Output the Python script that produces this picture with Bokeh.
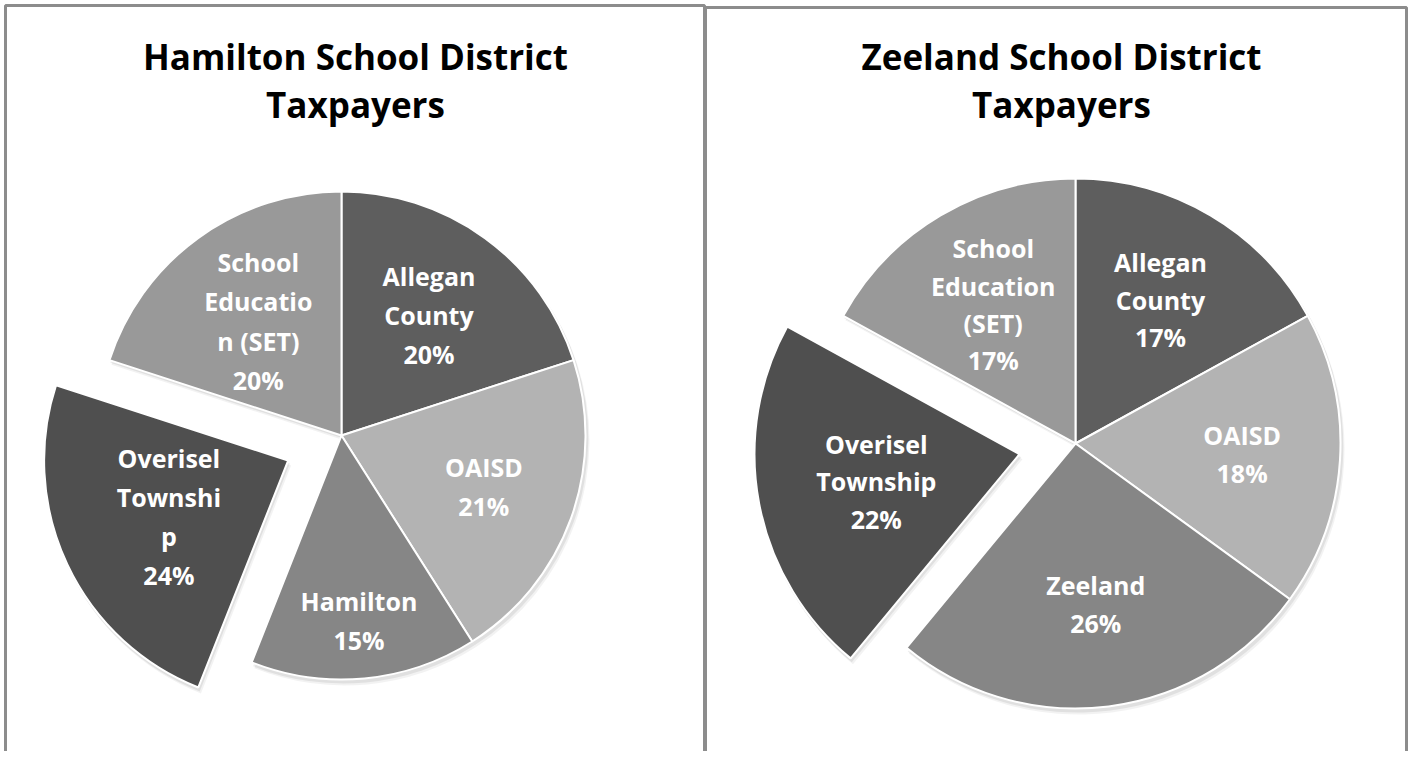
import math
from bokeh.plotting import figure
from bokeh.models import Range1d
from bokeh.core.properties import value
from bokeh.embed import file_html
from bokeh.resources import INLINE

# ---------------- data ----------------
left_title = "Hamilton School District\nTaxpayers"
left_labels = ["Allegan\nCounty", "OAISD", "Hamilton", "Overisel\nTownshi\np", "School\nEducatio\nn (SET)"]
left_values = [20, 21, 15, 24, 20]

right_title = "Zeeland School District\nTaxpayers"
right_labels = ["Allegan\nCounty", "OAISD", "Zeeland", "Overisel\nTownship", "School\nEducation\n(SET)"]
right_values = [17, 18, 26, 22, 17]

# ---------------- styles / layout ----------------
colors = ["#5e5e5e", "#b3b3b3", "#868686", "#4f4f4f", "#999999"]
explode = [0, 0, 0, 1, 0]
FONT = "Open Sans"

W, H = 1408, 751
p = figure(width=W, height=H, output_backend="svg", toolbar_location=None,
           x_range=Range1d(0, W), y_range=Range1d(767 - H, 767),
           min_border=0, outline_line_color=None)
p.axis.visible = False
p.grid.visible = False
p.background_fill_color = "white"
p.border_fill_color = "white"

def Y(y):
    return 767 - y

# panel borders
bc = "#8c8c8c"
p.line([5, 5, 704, 704], [Y(780), Y(5), Y(5), Y(780)], line_color=bc, line_width=3)
p.line([705, 705, W - 2, W - 2], [Y(780), Y(7), Y(7), Y(780)], line_color=bc, line_width=3)


def draw_pie(cx, cy, r, values, labels, title, tx, label_frac, exp_px, fsize, lh, title_y):
    total = float(sum(values))
    cum = 0.0
    xs, ys, sa, ea, lx, ly, txt = [], [], [], [], [], [], []
    for i, v in enumerate(values):
        a0 = math.pi / 2 - 2 * math.pi * cum / total
        cum += v
        a1 = math.pi / 2 - 2 * math.pi * cum / total
        mid = (a0 + a1) / 2
        ox = cx + explode[i] * exp_px * math.cos(mid)
        oy = cy + explode[i] * exp_px * math.sin(mid)
        xs.append(ox); ys.append(oy); sa.append(a0); ea.append(a1)
        lx.append(ox + label_frac[i] * r * math.cos(mid))
        ly.append(oy + label_frac[i] * r * math.sin(mid))
        txt.append(labels[i] + "\n" + f"{round(100 * v / total)}%")
    # soft shadow
    for k, al in [(5, 0.05), (3, 0.07)]:
        p.wedge(x=[x + k * 0.6 for x in xs], y=[y - k for y in ys], radius=r + 1,
                start_angle=sa, end_angle=ea, direction="clock",
                fill_color="black", fill_alpha=al, line_color=None)
    p.wedge(x=xs, y=ys, radius=r, start_angle=sa, end_angle=ea, direction="clock",
            fill_color=colors, line_color="white", line_width=2)
    p.text(x=lx, y=ly, text=txt, text_color="white", text_font=value(FONT),
           text_font_style="bold", text_font_size=f"{fsize}px", text_align="center",
           text_baseline="middle", text_line_height=lh)
    p.text(x=[tx], y=[Y(title_y)], text=[title], text_color="black", text_font=value(FONT),
           text_font_style="bold", text_font_size="35px", text_align="center",
           text_baseline="middle", text_line_height=1.03)


draw_pie(341, Y(435), 244, left_values, left_labels, left_title, 355,
         [0.61, 0.62, 0.76, 0.54, 0.58], 59, 25, 1.15, 80)
draw_pie(1075, Y(443), 265, right_values, right_labels, right_title, 1061,
         [0.63, 0.63, 0.61, 0.55, 0.61], 57, 25, 1.1, 80)

open("out.html", "w").write(file_html(p, INLINE))
